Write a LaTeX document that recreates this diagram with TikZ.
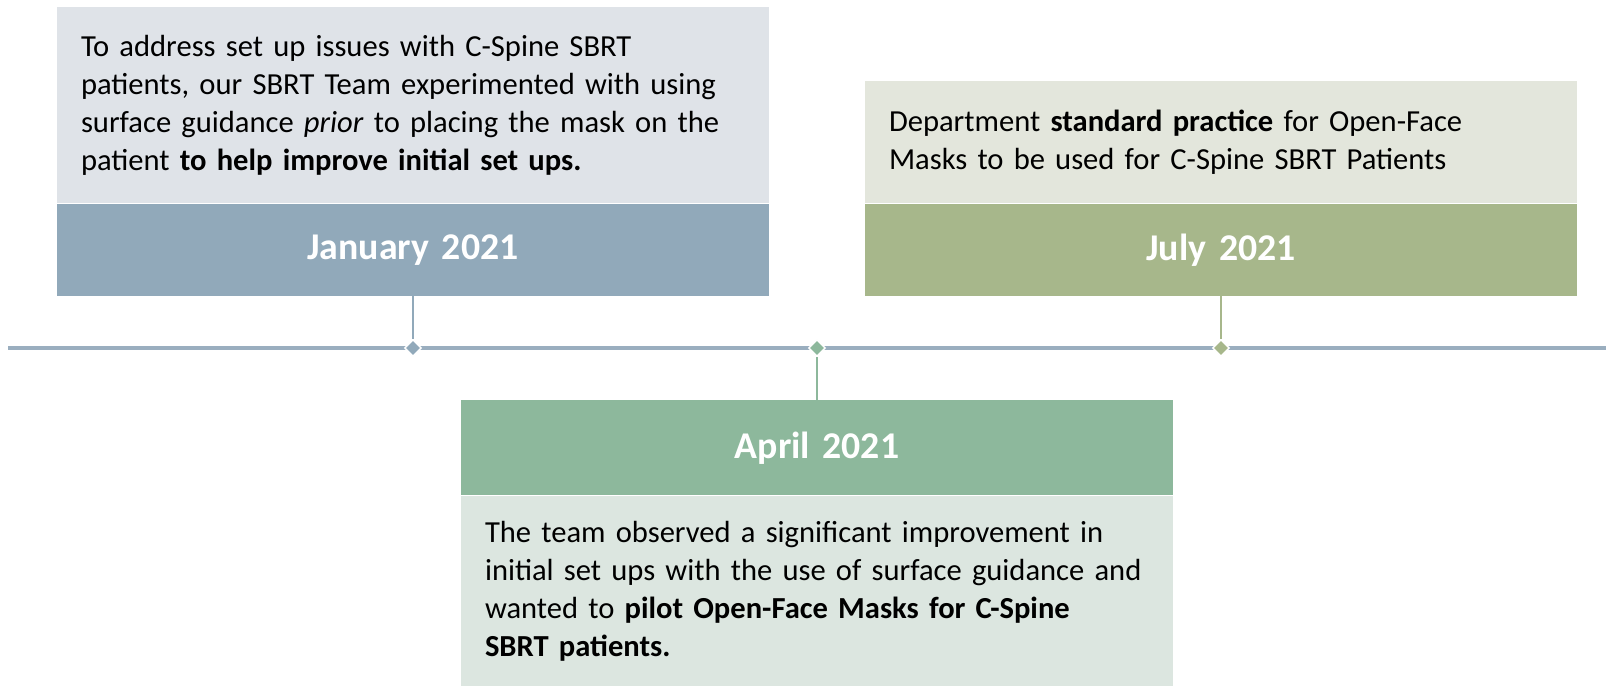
\documentclass[tikz,border=0pt]{standalone}
\usepackage{fontspec}
\setmainfont{Carlito}
\usepackage{xcolor}
\usetikzlibrary{positioning,shapes.geometric}
\definecolor{janlab}{HTML}{91A9BA}
\definecolor{jantxt}{HTML}{DFE3E8}
\definecolor{aprlab}{HTML}{8DB89C}
\definecolor{aprtxt}{HTML}{DCE6E0}
\definecolor{jullab}{HTML}{A7B78B}
\definecolor{jultxt}{HTML}{E3E6DC}
\definecolor{axis}{HTML}{9AAEBF}

\begin{document}
\begin{tikzpicture}[
  txtbox/.style={anchor=north,text width=13.28cm,inner xsep=0.48cm,inner ysep=0pt,align=left,
    font=\fontsize{17.4}{21.6}\selectfont,text=black},
  labbox/.style={text width=13.28cm,inner xsep=0.48cm,inner ysep=0pt,minimum height=1.84cm,
    align=center,font=\fontsize{21.5}{24}\selectfont\bfseries,text=white},
  dot/.style={diamond,draw=white,line width=0.8pt,inner sep=0pt,minimum size=0.34cm},
  stem/.style={line width=0.9pt}
]
\useasboundingbox (0,0) rectangle (32.12,13.7);

% timeline
\coordinate (tl-l) at (0.16,6.74);
\coordinate (tl-r) at (32.12,6.74);
\draw[axis,line width=1.8pt] (tl-l) -- (tl-r);

% January
\node[txtbox,fill=jantxt,minimum height=3.92cm] (jtxt) at (8.26,13.56) {To address set up issues with C-Spine SBRT\\patients, our SBRT Team experimented with using\\surface guidance \textit{prior} to placing the mask on the\\patient \textbf{to help improve initial set ups.}};
\node[labbox,fill=janlab,below=0pt of jtxt] (jlab) {January 2021};

% July
\node[txtbox,fill=jultxt,minimum height=2.44cm] (utxt) at (24.42,12.08) {Department \textbf{standard practice} for Open-Face\\Masks to be used for C-Spine SBRT Patients};
\node[labbox,fill=jullab,below=0pt of utxt] (ulab) {July 2021};

% April
\node[labbox,fill=aprlab,minimum height=1.9cm,anchor=north] (alab) at (16.34,5.70) {April 2021};
\node[txtbox,fill=aprtxt,minimum height=3.8cm,below=0pt of alab] (atxt) {The team observed a significant improvement in\\initial set ups with the use of surface guidance and\\wanted to \textbf{pilot Open-Face Masks for C-Spine}\\\textbf{SBRT patients.}};

% stems and markers
\node[dot,fill=janlab] (jdot) at (8.26,6.74) {};
\node[dot,fill=aprlab] (adot) at (16.34,6.74) {};
\node[dot,fill=jullab] (udot) at (24.42,6.74) {};
\draw[stem,janlab] (jlab.south) -- (jdot.north);
\draw[stem,aprlab] (adot.south) -- (alab.north);
\draw[stem,jullab] (ulab.south) -- (udot.north);
\end{tikzpicture}
\end{document}
